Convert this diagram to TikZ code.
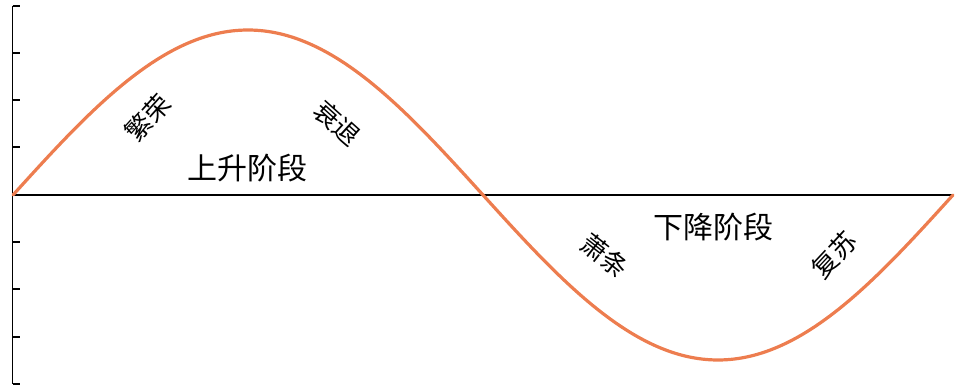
\documentclass[tikz,border=0pt]{standalone}
\usepackage{fontspec}
\newfontfamily\cjk{Noto Sans CJK SC}
\definecolor{curveorange}{HTML}{ED7D4F}
\tikzset{
  axisline/.style={line width=1.1pt, black},
  tickline/.style={line width=1.1pt, black},
  curve/.style={line width=2.4pt, curveorange, line cap=round},
  phase/.style={font=\cjk\fontsize{22.5}{24}\selectfont, inner sep=0pt},
  stage/.style={font=\cjk\fontsize{19.5}{21}\selectfont, inner sep=0pt},
}
\begin{document}
\begin{tikzpicture}[x=0.75pt,y=-0.75pt]
\useasboundingbox (0,0) rectangle (960,388);
% axes
\coordinate (ytop) at (12.5,6);
\coordinate (ybot) at (12.5,384);
\coordinate (o) at (12.5,195);
\coordinate (xend) at (953,195);
\draw[axisline] (ytop) -- (ybot);
\draw[axisline, line width=0.9pt] (o) -- (xend);
\foreach \ty in {6,53,100,147,242,289,337,384}{
  \draw[tickline] (12.5,\ty) -- (19.5,\ty);
}
% sine curve
\draw[curve] plot[domain=13:953, samples=241, smooth] (\x, {195-165*sin(0.382979*(\x-13))});
% labels
\node[phase] (up) at (247,168) {上升阶段};
\node[phase] (down) at (713,227) {下降阶段};
\node[stage, rotate=48] (boom) at (148,118) {繁荣};
\node[stage, rotate=-42] (rec) at (337,123) {衰退};
\node[stage, rotate=-38] (dep) at (605,256) {萧条};
\node[stage, rotate=47] (recov) at (834,255) {复苏};
\end{tikzpicture}
\end{document}
